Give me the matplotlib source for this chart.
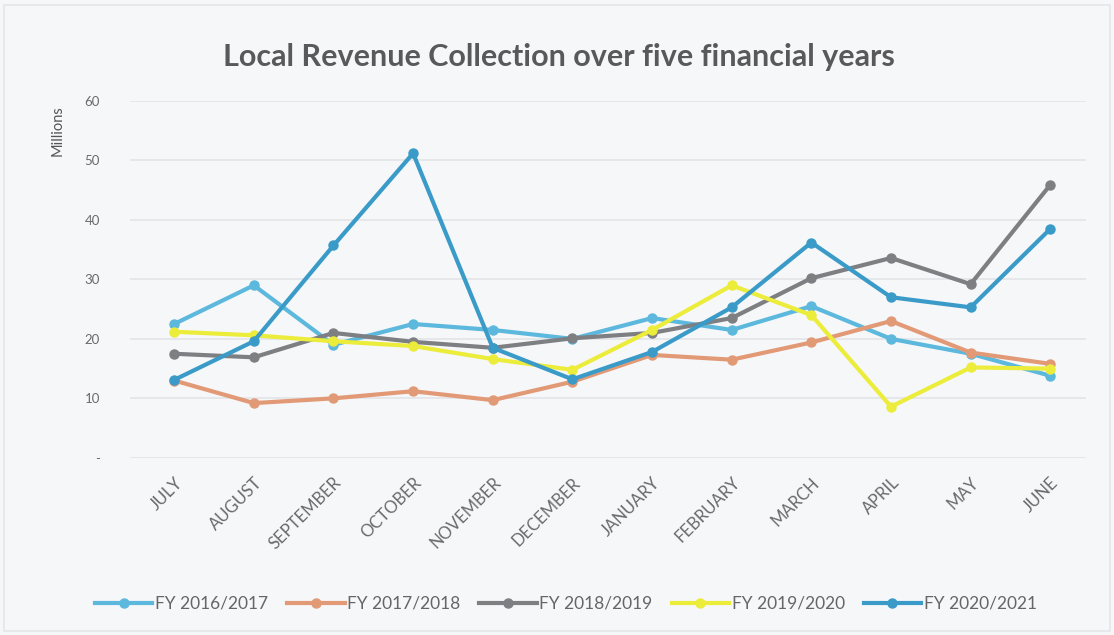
import matplotlib
matplotlib.use("Agg")
import matplotlib.pyplot as plt
from matplotlib.ticker import FuncFormatter
from matplotlib.patches import Rectangle

plt.rcParams['font.family'] = ['Lato', 'DejaVu Sans']

months = ["JULY", "AUGUST", "SEPTEMBER", "OCTOBER", "NOVEMBER", "DECEMBER",
          "JANUARY", "FEBRUARY", "MARCH", "APRIL", "MAY", "JUNE"]

fy_2016_2017 = [22.5, 29.0, 19.0, 22.5, 21.5, 20.0, 23.5, 21.5, 25.5, 20.0, 17.5, 13.8]
fy_2017_2018 = [13.0, 9.2, 10.0, 11.2, 9.7, 12.8, 17.3, 16.5, 19.4, 23.0, 17.7, 15.8]
fy_2018_2019 = [17.5, 16.9, 21.0, 19.5, 18.5, 20.1, 21.0, 23.5, 30.2, 33.6, 29.2, 45.9]
fy_2019_2020 = [21.2, 20.6, 19.6, 18.8, 16.6, 14.8, 21.5, 29.0, 24.0, 8.6, 15.2, 15.0]
fy_2020_2021 = [13.1, 19.6, 35.7, 51.2, 18.5, 13.2, 17.8, 25.3, 36.2, 27.0, 25.3, 38.5]

series = [
    ("FY 2016/2017", fy_2016_2017, "#5cb8dc"),
    ("FY 2017/2018", fy_2017_2018, "#e29a76"),
    ("FY 2018/2019", fy_2018_2019, "#7d7f82"),
    ("FY 2019/2020", fy_2019_2020, "#ecec3a"),
    ("FY 2020/2021", fy_2020_2021, "#3a9bc8"),
]

fig = plt.figure(figsize=(11.14, 6.35), dpi=100, facecolor="#f6f7f9")
fig.patches.append(Rectangle((0.004, 0.006), 0.992, 0.986, transform=fig.transFigure,
                             fill=False, edgecolor="#e4e6ea", lw=1.2))
ax = fig.add_axes([0.117, 0.279, 0.858, 0.562])
ax.set_facecolor("#f6f7f9")

x = list(range(len(months)))
for label, vals, color in series:
    ax.plot(x, vals, color=color, lw=3.0, marker="o", ms=6.5, label=label,
            solid_joinstyle="round")

ax.set_ylim(0, 60)
ax.set_xlim(-0.55, len(months) - 0.55)
ax.set_yticks(range(0, 61, 10))
ax.yaxis.set_major_formatter(FuncFormatter(lambda v, p: "-" if v == 0 else f"{int(v)}"))
ax.grid(axis="y", color="#e2e4e8", lw=1.2)
ax.set_axisbelow(True)
for s in ax.spines.values():
    s.set_visible(False)
ax.tick_params(axis="both", length=0, colors="#6a6a6a", labelsize=9.5)
ax.tick_params(axis="y", pad=22)
ax.set_xticks(x)
ax.set_xticklabels(months, rotation=45, ha="right", rotation_mode="anchor", fontsize=12)
ax.tick_params(axis="x", pad=12)

fig.text(0.052, 0.795, "Millions", rotation=90, ha="center", va="center",
         fontsize=10.5, color="#555555")
fig.text(0.502, 0.911, "Local Revenue Collection over five financial years",
         ha="center", va="center", fontsize=22, fontweight="bold", color="#595959")

fig.legend(loc="center", bbox_to_anchor=(0.508, 0.049), ncol=5, frameon=False,
           fontsize=12.5, handlelength=3.3, columnspacing=1.1, handletextpad=0.15,
           labelcolor="#666666")

fig.savefig("out.png", dpi=100, facecolor=fig.get_facecolor())
